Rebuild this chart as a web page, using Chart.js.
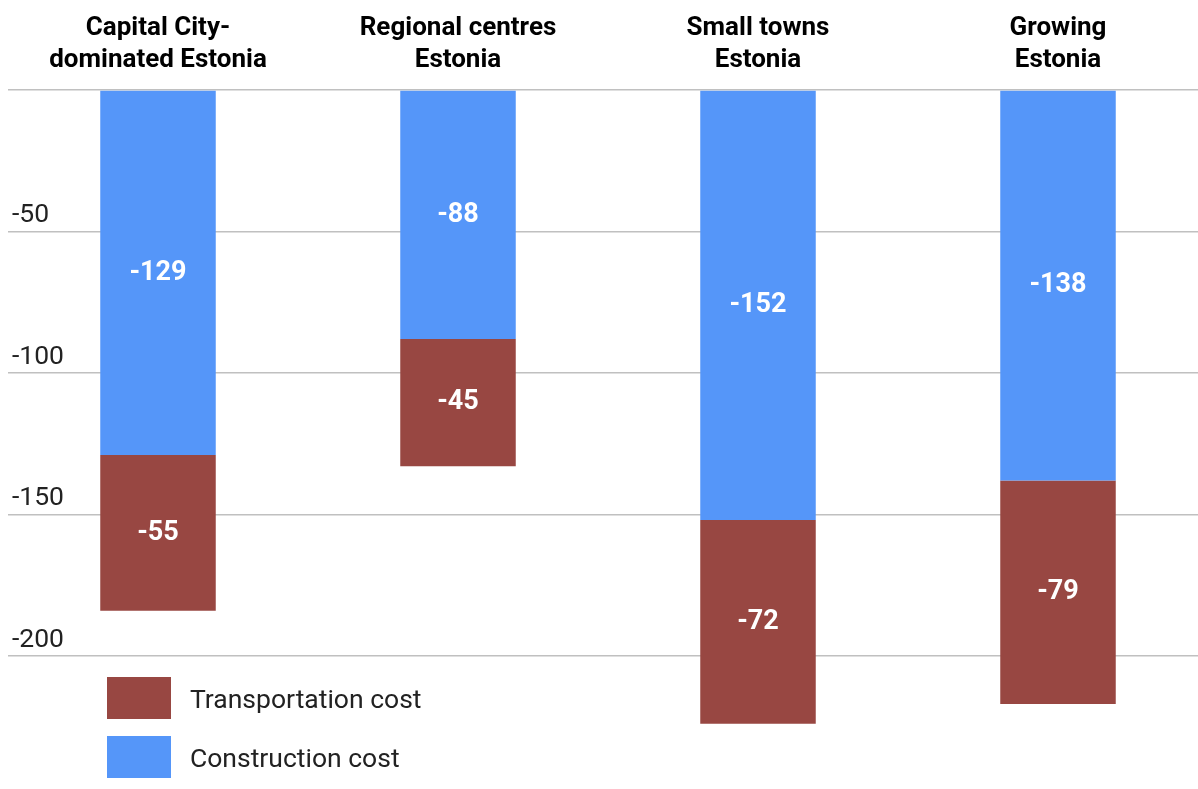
<!DOCTYPE html>
<html lang="en">
<head>
    <meta charset="UTF-8">
    <title>Estonia scenarios - costs</title>
    <script src="https://cdn.jsdelivr.net/npm/chart.js"></script>
    <style>
        html, body {
            margin: 0;
            padding: 0;
            background: #fff;
            overflow: hidden;
            font-family: Roboto, 'Noto Sans', sans-serif;
        }

        .chart-container {
            position: absolute;
            left: 0;
            top: 0;
            width: 1210px;
            height: 789px;
        }

        .legend {
            position: absolute;
            left: 107px;
            top: 677px;
        }

        .legend-item {
            display: flex;
            align-items: center;
            height: 42px;
            margin-bottom: 17px;
            font-size: 26.5px;
            color: #222;
        }

        .legend-box {
            width: 64px;
            height: 42px;
            margin-right: 19px;
        }
    </style>
</head>
<body>
    <div class="chart-container">
        <canvas id="costChart"></canvas>
    </div>
    <div class="legend" id="legend"></div>

<script>
// categories (two-line labels on top)
const scenarios = [
    ['Capital City-', 'dominated Estonia'],
    ['Regional centres', 'Estonia'],
    ['Small towns', 'Estonia'],
    ['Growing', 'Estonia']
];

// series values
const constructionCost = [-129, -88, -152, -138];
const transportationCost = [-55, -45, -72, -79];

// y tick values shown
const yTicks = [-50, -100, -150, -200];

const BLUE = '#5596f9';
const RED = '#984742';

// white numbers inside each bar segment
const barLabels = {
    id: 'barLabels',
    afterDatasetsDraw(chart) {
        const ctx = chart.ctx;
        ctx.save();
        ctx.fillStyle = '#fff';
        ctx.font = 'bold 27px Roboto';
        ctx.textAlign = 'center';
        ctx.textBaseline = 'middle';
        chart.data.datasets.forEach((ds, i) => {
            chart.getDatasetMeta(i).data.forEach((bar, j) => {
                const p = bar.getCenterPoint();
                ctx.fillText(ds.data[j], p.x, p.y);
            });
        });
        ctx.restore();
    }
};

const ctx = document.getElementById('costChart').getContext('2d');
const chart = new Chart(ctx, {
    type: 'bar',
    data: {
        labels: scenarios,
        datasets: [{
            label: 'Construction cost',
            data: constructionCost,
            backgroundColor: BLUE
        }, {
            label: 'Transportation cost',
            data: transportationCost,
            backgroundColor: RED
        }]
    },
    options: {
        responsive: true,
        maintainAspectRatio: false,
        animation: false,
        layout: {
            padding: {left: 0, right: 2, top: 8, bottom: 0}
        },
        datasets: {
            bar: {
                categoryPercentage: 1,
                barPercentage: 0.385
            }
        },
        scales: {
            x: {
                position: 'top',
                stacked: true,
                grid: {display: false},
                border: {display: false},
                ticks: {
                    color: '#000',
                    font: {family: 'Roboto', size: 26, weight: 'bold', lineHeight: 1.23},
                    padding: 5,
                    maxRotation: 0
                }
            },
            y: {
                stacked: true,
                min: -240,
                max: 0,
                border: {display: false},
                grid: {
                    color: '#c0c0c0',
                    lineWidth: 1.5,
                    drawTicks: false
                },
                afterBuildTicks: (scale) => {
                    scale.ticks = [0].concat(yTicks).map(v => ({value: v}));
                },
                ticks: {
                    mirror: true,
                    padding: 4,
                    labelOffset: -16,
                    color: '#222',
                    font: {family: 'Roboto', size: 26.5},
                    callback: (v) => v === 0 ? '' : v
                }
            }
        },
        plugins: {
            legend: {display: false},
            tooltip: {enabled: false}
        }
    },
    plugins: [barLabels]
});

// legend, listed bottom-of-stack first
const legendEl = document.getElementById('legend');
chart.data.datasets.slice().reverse().forEach(ds => {
    const item = document.createElement('div');
    item.className = 'legend-item';
    const box = document.createElement('div');
    box.className = 'legend-box';
    box.style.background = ds.backgroundColor;
    const txt = document.createElement('span');
    txt.textContent = ds.label;
    item.appendChild(box);
    item.appendChild(txt);
    legendEl.appendChild(item);
});
</script>
</body>
</html>
